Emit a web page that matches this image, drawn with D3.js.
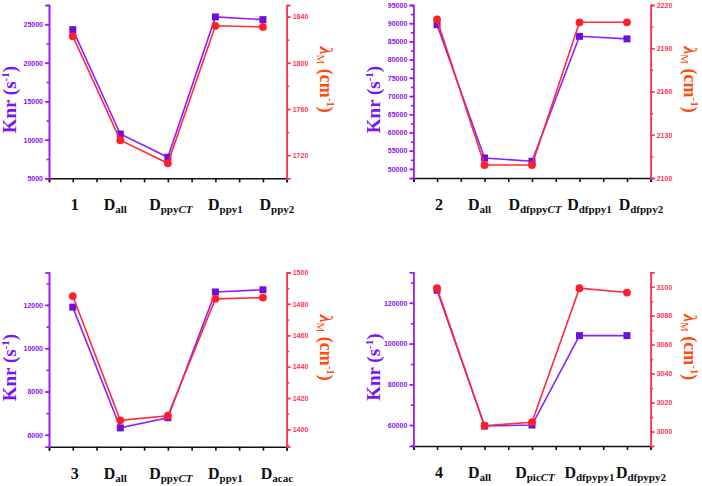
<!DOCTYPE html>
<html><head><meta charset="utf-8">
<script src="https://cdn.jsdelivr.net/npm/d3@7"></script>
<style>body{margin:0;background:#fff}svg{display:block}</style>
</head><body><svg id="c" width="702" height="486"></svg>
<script>
// ---- data ----
const cats1 = [["1","",""],["D","all",""],["D","ppy","CT"],["D","ppy1",""],["D","ppy2",""]];
const knr1 = [24300, 10750, 7730, 25950, 25600];
const lam1 = [1823, 1733, 1713, 1832, 1831];
const knrTicks1 = [5000, 10000, 15000, 20000, 25000];
const lamTicks1 = [1720, 1760, 1800, 1840];

const cats2 = [["2","",""],["D","all",""],["D","dfppy","CT"],["D","dfppy1",""],["D","dfppy2",""]];
const knr2 = [89600, 53000, 52100, 86400, 85700];
const lam2 = [2210, 2109, 2109, 2208, 2208];
const knrTicks2 = [50000, 55000, 60000, 65000, 70000, 75000, 80000, 85000, 90000, 95000];
const lamTicks2 = [2100, 2130, 2160, 2190, 2220];

const cats3 = [["3","",""],["D","all",""],["D","ppy","CT"],["D","ppy1",""],["D","acac",""]];
const knr3 = [11900, 6320, 6790, 12600, 12700];
const lam3 = [1485, 1405.8, 1408.7, 1483.2, 1484];
const knrTicks3 = [6000, 8000, 10000, 12000];
const lamTicks3 = [1400, 1420, 1440, 1460, 1480, 1500];

const cats4 = [["4","",""],["D","all",""],["D","pic","CT"],["D","dfpypy1",""],["D","dfpypy2",""]];
const knr4 = [126200, 59500, 60000, 103900, 103900];
const lam4 = [3099, 3004, 3006.4, 3099, 3096];
const knrTicks4 = [60000, 80000, 100000, 120000];
const lamTicks4 = [3000, 3020, 3040, 3060, 3080, 3100];

// ---- styles ----
const PURPLE_AX = "#9b1cff", PURPLE_LINE = "#8a22ff", PURPLE_MK = "#6f10d8", PURPLE_TXT = "#8a10f0";
const RED_AX = "#ff3355", RED_LINE = "#ff2a3a", RED_MK = "#ff1f2a", RED_LBL = "#ff4a10";
const LABEL_SHIFT = [2, -5, 3, 10, 14];

const svg = d3.select("#c");

function minorTicks(dom, step) {
  const out = [];
  const s = Math.ceil(dom[0] / step - 1e-9) * step;
  for (let v = s; v <= dom[1] + 1e-9; v += step) out.push(v);
  return out;
}

function panel(p) {
  const g = svg.append("g");
  const x = d3.scaleLinear().domain([0.5, p.cats.length + 0.5]).range([p.x0, p.x1]);
  const yL = d3.scaleLinear().domain(p.knrDom).range([p.y1, p.y0]);
  const yR = d3.scaleLinear().domain(p.lamDom).range([p.y1, p.y0]);
  const idx = d3.range(p.cats.length);

  // bottom axis
  const bx = g.append("g").attr("transform", `translate(0,${p.y1})`);
  bx.call(d3.axisBottom(x).tickValues(minorTicks([0.5, p.cats.length + 0.5], 0.5)).tickSize(4).tickFormat(""));
  bx.selectAll("path,line").attr("stroke", "#111").attr("stroke-width", 1.6);

  // left axis
  const la = g.append("g").attr("transform", `translate(${p.x0},0)`);
  la.append("g").call(d3.axisLeft(yL).tickValues(minorTicks(p.knrDom, p.knrMinor)).tickSize(2.5).tickFormat(""));
  la.append("g").call(d3.axisLeft(yL).tickValues(p.knrTicks).tickSize(4).tickPadding(2).tickFormat(d3.format("d")));
  la.selectAll("path,line").attr("stroke", PURPLE_AX).attr("stroke-width", 1.6);
  la.selectAll("text").attr("fill", PURPLE_TXT).attr("font-family", "Liberation Sans, Arial").attr("font-weight", "bold").attr("font-size", 7);

  // right axis
  const ra = g.append("g").attr("transform", `translate(${p.x1},0)`);
  ra.append("g").call(d3.axisRight(yR).tickValues(minorTicks(p.lamDom, p.lamMinor)).tickSize(2.5).tickFormat(""));
  ra.append("g").call(d3.axisRight(yR).tickValues(p.lamTicks).tickSize(4).tickPadding(2).tickFormat(d3.format("d")));
  ra.selectAll("path,line").attr("stroke", RED_AX).attr("stroke-width", 1.6);
  ra.selectAll("text").attr("fill", RED_AX).attr("font-family", "Liberation Sans, Arial").attr("font-weight", "bold").attr("font-size", 7);

  // purple series
  g.append("path").datum(idx).attr("fill", "none").attr("stroke", PURPLE_LINE).attr("stroke-width", 1.6)
    .attr("d", d3.line().x(i => x(i + 1)).y(i => yL(p.knr[i])));
  g.selectAll(".sq").data(idx).join("rect").attr("class", "sq")
    .attr("x", i => x(i + 1) - 3.5).attr("y", i => yL(p.knr[i]) - 3.5).attr("width", 7).attr("height", 7)
    .attr("fill", PURPLE_MK);
  // red series
  g.append("path").datum(idx).attr("fill", "none").attr("stroke", RED_LINE).attr("stroke-width", 1.6)
    .attr("d", d3.line().x(i => x(i + 1)).y(i => yR(p.lam[i])));
  g.selectAll(".pt").data(idx).join("path").attr("class", "pt")
    .attr("transform", i => `translate(${x(i + 1)},${yR(p.lam[i])})`)
    .attr("d", d3.symbol().type(d3.symbolCircle).size(48)).attr("fill", RED_MK);

  // category labels
  idx.forEach(i => {
    const c = p.cats[i];
    const t = g.append("text").attr("x", x(i + 1) + LABEL_SHIFT[i]).attr("y", p.y1 + 32).attr("text-anchor", "middle")
      .attr("font-family", "Liberation Serif, Times New Roman, serif").attr("font-weight", "bold").attr("fill", "#111");
    t.append("tspan").attr("font-size", 16).text(c[0]);
    if (c[1]) t.append("tspan").attr("font-size", 11).attr("dy", 3).text(c[1]);
    if (c[2]) t.append("tspan").attr("font-size", 11).attr("font-style", "italic").text(c[2]);
  });

  // left axis title
  const lt = g.append("text").attr("transform", `translate(${p.x0 - 33},${(p.y0 + p.y1) / 2 + 8}) rotate(-90)`)
    .attr("text-anchor", "middle").attr("font-family", "Liberation Serif, Times New Roman, serif")
    .attr("font-weight", "bold").attr("font-size", 19).attr("fill", "#7a14f0");
  lt.append("tspan").text("Knr (s");
  lt.append("tspan").attr("font-size", 11).attr("dy", -7).text("-1");
  lt.append("tspan").attr("dy", 7).text(")");

  // right axis title
  const rt = g.append("text").attr("transform", `translate(${p.x1 + 33},${(p.y0 + p.y1) / 2 - 12}) rotate(90)`)
    .attr("text-anchor", "middle").attr("font-family", "Liberation Serif, Times New Roman, serif")
    .attr("font-weight", "bold").attr("font-size", 18).attr("fill", RED_LBL);
  rt.append("tspan").attr("font-style", "italic").text("λ");
  rt.append("tspan").attr("font-size", 11).attr("font-weight", "normal").attr("dy", 3).text("M");
  rt.append("tspan").attr("dy", -3).text("\u00a0(cm");
  rt.append("tspan").attr("font-size", 11).attr("dy", -7).text("-1");
  rt.append("tspan").attr("dy", 7).text(")");
}

panel({x0: 49, x1: 286.7, y0: 5, y1: 178.3, cats: cats1, knr: knr1, lam: lam1,
  knrDom: [5000, 27500], knrTicks: knrTicks1, knrMinor: 2500, lamDom: [1700, 1850], lamTicks: lamTicks1, lamMinor: 20});
panel({x0: 413.3, x1: 650.7, y0: 5, y1: 178, cats: cats2, knr: knr2, lam: lam2,
  knrDom: [47500, 95000], knrTicks: knrTicks2, knrMinor: 2500, lamDom: [2100, 2220], lamTicks: lamTicks2, lamMinor: 15});
panel({x0: 49, x1: 286.7, y0: 272.5, y1: 446.7, cats: cats3, knr: knr3, lam: lam3,
  knrDom: [5450, 13500], knrTicks: knrTicks3, knrMinor: 1000, lamDom: [1389, 1500], lamTicks: lamTicks3, lamMinor: 10});
panel({x0: 413.3, x1: 650.7, y0: 272.3, y1: 446, cats: cats4, knr: knr4, lam: lam4,
  knrDom: [49700, 135000], knrTicks: knrTicks4, knrMinor: 10000, lamDom: [2990, 3110], lamTicks: lamTicks4, lamMinor: 10});
</script></body></html>
